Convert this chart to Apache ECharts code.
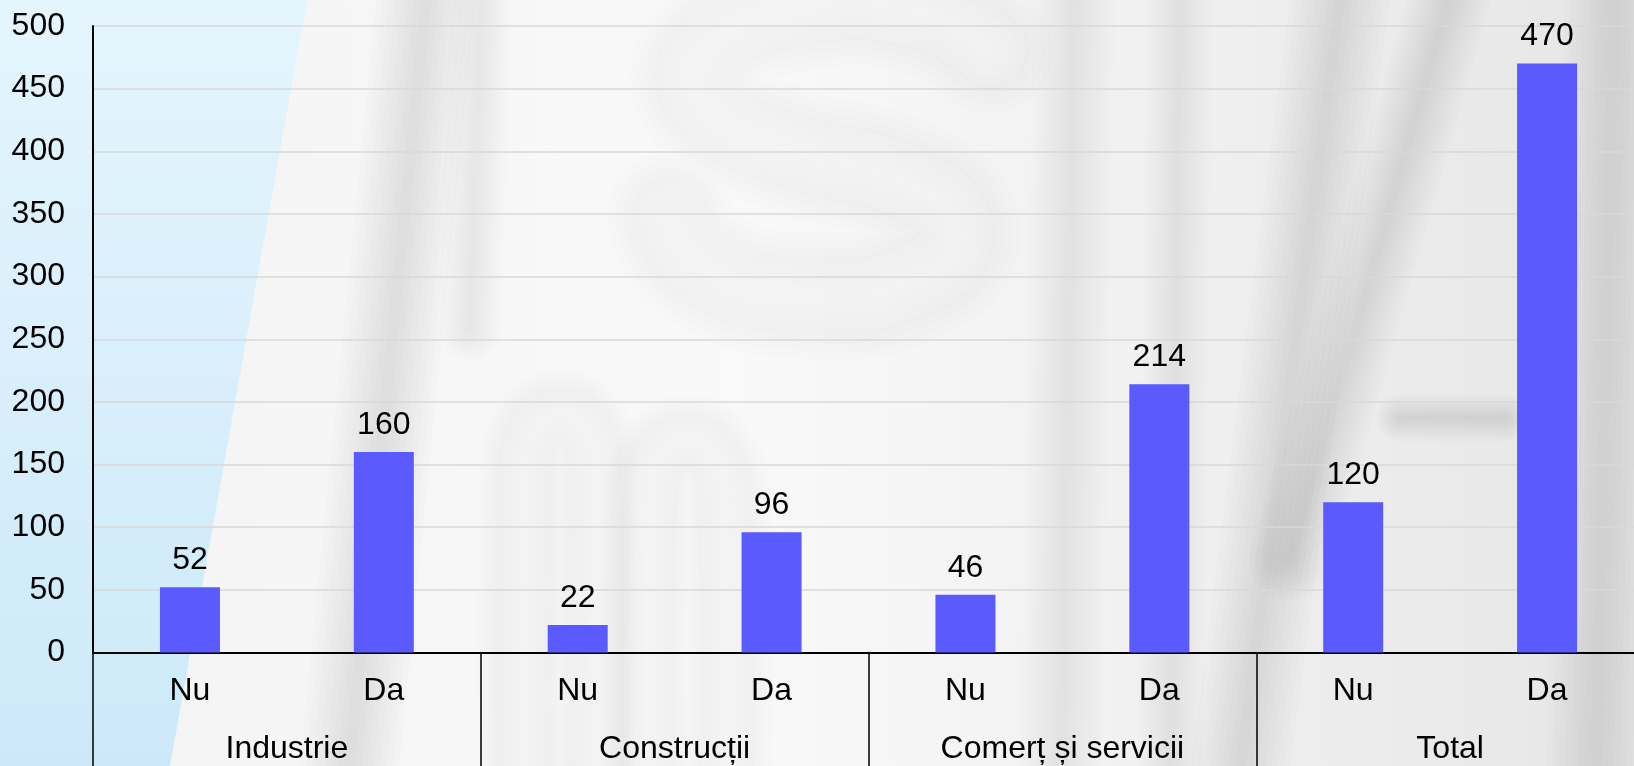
<!DOCTYPE html>
<html>
<head>
<meta charset="utf-8">
<title>Chart</title>
<script src="https://cdn.jsdelivr.net/npm/echarts@6/dist/echarts.min.js"></script>
<style>
  html, body { margin: 0; padding: 0; }
  #chart { width: 1634px; height: 766px; }
</style>
</head>
<body>
<div id="chart"></div>
<script>
// date grafic
var answers = ['Nu', 'Da', 'Nu', 'Da', 'Nu', 'Da', 'Nu', 'Da'];
var groups = ['Industrie', 'Construcții', 'Comerț și servicii', 'Total'];
var values = [52, 160, 22, 96, 46, 214, 120, 470];
var yTicks = [0, 500, 50]; // min, max, pas

var FONT = '"Liberation Sans", Arial, sans-serif';
var FS = 32;

// benzi estompate din fundal
function softLine(points, width, alpha, color, smooth) {
    var els = [];
    var n = 8;
    for (var i = 0; i < n; i++) {
        var f = 1.8 - i * (1.6 / (n - 1));
        els.push({
            type: 'polyline',
            silent: true,
            z: -100,
            shape: { points: points, smooth: smooth || 0 },
            style: {
                fill: null,
                stroke: 'rgba(' + color + ',' + (alpha / 6).toFixed(4) + ')',
                lineWidth: width * f,
                lineCap: 'round',
                lineJoin: 'round'
            }
        });
    }
    return els;
}

function outlineShape(points, outer, inner, alpha) {
    var els = softLine(points, outer, alpha, '120,120,120', 0.5);
    els = els.concat(softLine(points, inner, 0.7, '251,251,251', 0.5));
    return els;
}

var bg = [];
bg.push({
    type: 'rect', silent: true, z: -110,
    shape: { x: 0, y: 0, width: 1634, height: 766 },
    style: {
        fill: new echarts.graphic.LinearGradient(0, 0, 1, 0, [
            { offset: 0, color: '#F3F3F3' },
            { offset: 0.45, color: '#F9F9F9' },
            { offset: 0.75, color: '#EFEFEF' },
            { offset: 1, color: '#E6E6E6' }
        ])
    }
});
var bands = [
    [[430, -40], [345, 810], 55, 0.15],
    [[482, -40], [470, 330], 34, 0.07],
    [[1075, -40], [1060, 810], 45, 0.08],
    [[1180, -40], [1170, 810], 36, 0.06],
    [[1345, -40], [1235, 810], 55, 0.15],
    [[1460, -40], [1290, 560], 45, 0.11],
    [[1615, -40], [1595, 810], 55, 0.13],
    [[1400, 418], [1505, 418], 26, 0.11]
];
bands.forEach(function (b) {
    bg = bg.concat(softLine([b[0], b[1]], b[2], b[3], '120,120,120'));
});
bg = bg.concat(softLine([[325, -40], [185, 810]], 36, 0.5, '255,255,255'));
bg = bg.concat(outlineShape([[990, 50], [920, 12], [800, 8], [705, 50], [705, 105], [790, 150],
    [900, 180], [955, 225], [925, 275], [800, 295], [700, 265], [670, 215]], 70, 40, 0.1));
bg = bg.concat(outlineShape([[525, 820], [525, 480], [535, 430], [560, 415], [585, 430], [595, 480], [595, 820]], 50, 26, 0.1));
bg = bg.concat(outlineShape([[650, 820], [650, 500], [662, 455], [688, 440], [713, 455], [725, 500], [725, 820]], 50, 26, 0.09));
bg.push({
    type: 'polygon', silent: true, z: -90,
    shape: { points: [[0, 0], [307, 0], [170, 766], [0, 766]] },
    style: {
        fill: new echarts.graphic.LinearGradient(0, 0, 0, 1, [
            { offset: 0, color: '#E4F5FD' },
            { offset: 1, color: '#CDE9F9' }
        ])
    }
});

var myChart = echarts.init(document.getElementById('chart'));

var option = {
    backgroundColor: '#F2F2F2',
    animation: false,
    graphic: { elements: bg },
    grid: {
        left: 93,
        top: 26,
        width: 1551,
        height: 626.5,
        containLabel: false,
        outerBoundsMode: 'none'
    },
    xAxis: [{
        type: 'category',
        data: answers,
        position: 'bottom',
        axisLine: { show: true, lineStyle: { color: '#000', width: 2 } },
        axisTick: { show: false },
        axisLabel: { fontSize: FS, color: '#000', fontFamily: FONT, margin: 23, interval: 0 },
        splitLine: { show: false }
    }, {
        type: 'category',
        data: groups,
        position: 'bottom',
        axisLine: { show: false },
        axisTick: { show: true, interval: 0, length: 130, lineStyle: { color: '#000', width: 1.5 } },
        axisLabel: { fontSize: FS, color: '#000', fontFamily: FONT, margin: 81, interval: 0 },
        splitLine: { show: false }
    }],
    yAxis: {
        type: 'value',
        min: yTicks[0],
        max: yTicks[1],
        interval: yTicks[2],
        axisLine: { show: true, lineStyle: { color: '#000', width: 2 } },
        axisTick: { show: false },
        axisLabel: { fontSize: FS, color: '#000', fontFamily: FONT, margin: 28 },
        splitLine: { show: true, lineStyle: { color: '#D8D8D8', width: 1.5 } }
    },
    series: [{
        type: 'bar',
        xAxisIndex: 0,
        data: values,
        barWidth: 60,
        itemStyle: { color: '#5A5AFF' },
        label: {
            show: true,
            position: 'top',
            distance: 11,
            fontSize: FS,
            color: '#000',
            fontFamily: FONT
        }
    }]
};

myChart.setOption(option);
</script>
</body>
</html>
